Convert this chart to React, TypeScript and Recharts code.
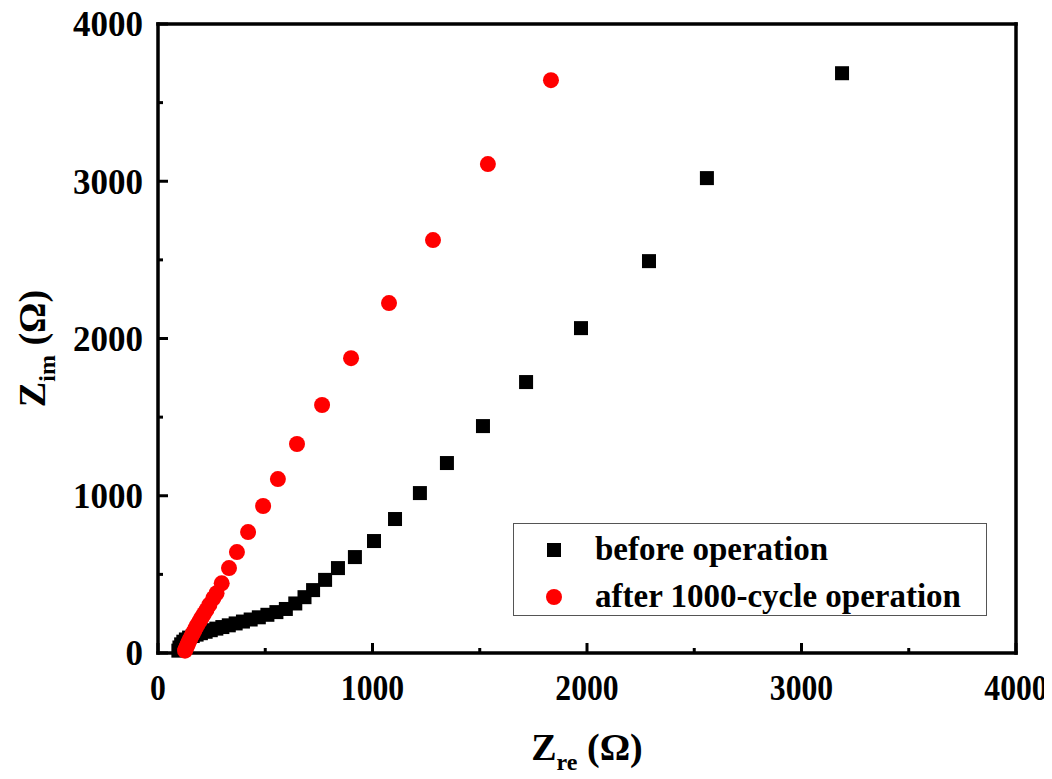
import React from 'react';
import { ScatterChart, Scatter, XAxis, YAxis, Legend, Label } from 'recharts';

// Nyquist data (Ohm)
const beforeRe = [95, 100, 108, 118, 130, 145, 162, 180, 200, 222, 246, 272, 300, 330, 362, 396, 432, 470, 510, 552, 596, 640, 683, 723, 779, 839, 918, 1007, 1105, 1221, 1347, 1515, 1716, 1972, 2289, 2559, 3189];
const beforeIm = [15, 35, 55, 72, 86, 98, 108, 117, 126, 135, 145, 155, 165, 176, 188, 200, 213, 227, 243, 260, 280, 315, 355, 400, 465, 540, 610, 712, 852, 1017, 1208, 1443, 1723, 2066, 2492, 3020, 3687];

const afterRe = [126, 129, 132, 136, 140, 145, 150, 156, 162, 169, 176, 184, 193, 203, 214, 226, 240, 258, 273, 297, 331, 368, 420, 490, 559, 648, 765, 900, 1077, 1282, 1538, 1832];
const afterIm = [15, 25, 36, 48, 61, 75, 90, 106, 123, 141, 160, 180, 201, 224, 248, 274, 308, 348, 380, 443, 540, 642, 769, 935, 1106, 1329, 1577, 1875, 2225, 2626, 3109, 3643];

const axisTicks = [0, 500, 1000, 1500, 2000, 2500, 3000, 3500, 4000];

const before = beforeRe.map((x, i) => ({ x, y: beforeIm[i] }));
const after = afterRe.map((x, i) => ({ x, y: afterIm[i] }));

const font = '"Liberation Serif", "Times New Roman", serif';
const frame = { stroke: '#000', strokeWidth: 3.5, strokeLinecap: 'square' as const };

const tickLen = (v: number) => (v % 1000 === 0 ? 10 : 5);

const BottomTick = (p: any) => {
  const v = p.payload.value;
  return (
    <g>
      <line x1={p.x} x2={p.x} y1={p.y} y2={p.y - tickLen(v)} stroke="#000" strokeWidth={3} />
      {v % 1000 === 0 && (
        <text x={p.x} y={p.y + 47} textAnchor="middle" fontFamily={font} fontWeight="bold" fontSize={36}
          fill="#000" transform={`translate(${p.x} 0) scale(0.88 1) translate(${-p.x} 0)`}>{v}</text>
      )}
    </g>
  );
};

const LeftTick = (p: any) => {
  const v = p.payload.value;
  return (
    <g>
      <line x1={p.x} x2={p.x + tickLen(v)} y1={p.y} y2={p.y} stroke="#000" strokeWidth={3} />
      {v % 1000 === 0 && (
        <text x={p.x - 15} y={p.y} dy="0.35em" textAnchor="end" fontFamily={font} fontWeight="bold" fontSize={35} fill="#000">{v}</text>
      )}
    </g>
  );
};

const TopTick = (p: any) => (
  <line x1={p.x} x2={p.x} y1={p.y} y2={p.y + tickLen(p.payload.value)} stroke="#000" strokeWidth={3} />
);

const RightTick = (p: any) => (
  <line x1={p.x} x2={p.x - tickLen(p.payload.value)} y1={p.y} y2={p.y} stroke="#000" strokeWidth={3} />
);

const XTitle = (p: any) => {
  const vb = p.viewBox;
  return (
    <text x={vb.x + vb.width / 2} y={vb.y + 107} textAnchor="middle" fontFamily={font} fontWeight="bold" fontSize={38} fill="#000">
      Z<tspan fontSize={24} dy={10}>re</tspan><tspan dy={-10}> (Ω)</tspan>
    </text>
  );
};

const YTitle = (p: any) => {
  const vb = p.viewBox;
  const cx = vb.x + 37;
  const cy = vb.y + vb.height / 2 + 10;
  return (
    <text x={cx} y={cy} transform={`rotate(-90 ${cx} ${cy})`} textAnchor="middle" fontFamily={font} fontWeight="bold" fontSize={38} fill="#000">
      Z<tspan fontSize={24} dy={10}>im</tspan><tspan dy={-10}> (Ω)</tspan>
    </text>
  );
};

const LegendBox = () => (
  <div style={{ width: 474, height: 93, border: '1px solid #555', background: '#fff', fontFamily: font, fontWeight: 'bold', fontSize: 33, position: 'relative', boxSizing: 'border-box' }}>
    <div style={{ position: 'absolute', left: 33, top: 19, width: 14, height: 14, background: '#000' }} />
    <div style={{ position: 'absolute', left: 81, top: 6, lineHeight: '38px' }}>before operation</div>
    <div style={{ position: 'absolute', left: 32, top: 65, width: 16, height: 16, borderRadius: 8, background: '#ff0000' }} />
    <div style={{ position: 'absolute', left: 81, top: 53, lineHeight: '38px' }}>after 1000-cycle operation</div>
  </div>
);

export default function App() {
  return (
    <ScatterChart width={1044} height={771} margin={{ top: 15, right: 35, bottom: 16, left: 0 }}>
      <XAxis xAxisId="top" orientation="top" type="number" dataKey="x" domain={[0, 4000]} ticks={axisTicks} interval={0}
        height={1} tickSize={0} tickMargin={0} axisLine={frame} tick={TopTick} />
      <YAxis yAxisId="right" orientation="right" type="number" dataKey="y" domain={[0, 4000]} ticks={axisTicks} interval={0}
        width={1} tickSize={0} tickMargin={0} axisLine={frame} tick={RightTick} />
      <XAxis type="number" dataKey="x" domain={[0, 4000]} ticks={axisTicks} interval={0} height={110}
        tickSize={0} tickMargin={0} axisLine={frame} tick={BottomTick}>
        <Label content={XTitle} />
      </XAxis>
      <YAxis type="number" dataKey="y" domain={[0, 4000]} ticks={axisTicks} interval={0} width={150}
        tickSize={0} tickMargin={0} axisLine={frame} tick={LeftTick}>
        <Label content={YTitle} />
      </YAxis>
      <Legend content={LegendBox} layout="horizontal" align="center" verticalAlign="middle"
        wrapperStyle={{ position: 'absolute', left: 505, top: 515, width: 474 }} />
      <Scatter name="before operation" data={before} isAnimationActive={false}
        shape={(p: any) => <rect x={p.cx - 7} y={p.cy - 7} width={14} height={14} fill="#000" />} />
      <Scatter name="after 1000-cycle operation" data={after} isAnimationActive={false}
        shape={(p: any) => <circle cx={p.cx} cy={p.cy} r={8} fill="#ff0000" />} />
      {/* keep the mirror axes alive with an empty series bound to them */}
      <Scatter data={[]} xAxisId="top" yAxisId="right" isAnimationActive={false} legendType="none" />
    </ScatterChart>
  );
}
